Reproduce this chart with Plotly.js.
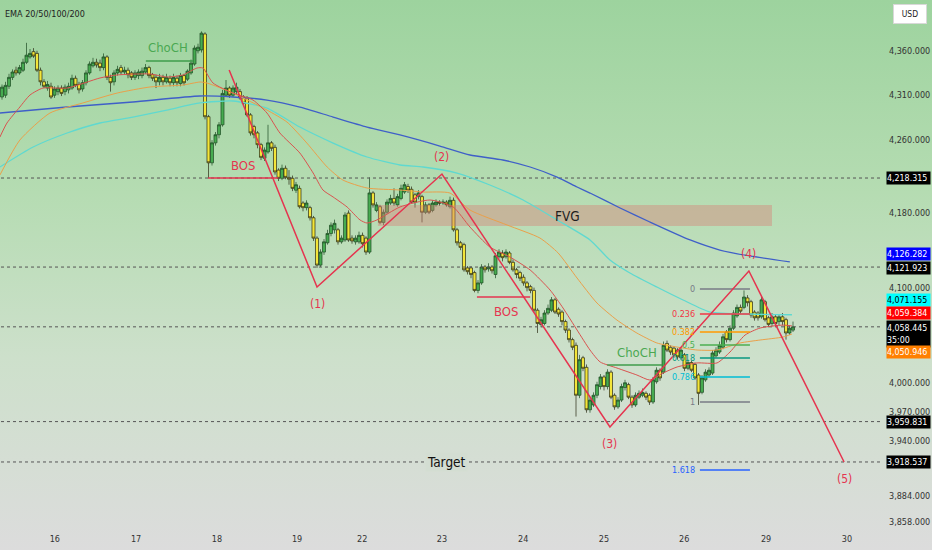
<!DOCTYPE html>
<html><head><meta charset="utf-8">
<script src="https://cdn.plot.ly/plotly-3.0.1.min.js"></script>
<style>
html,body{margin:0;padding:0;}
#chart{width:932px;height:550px;background:linear-gradient(to bottom,#9dd39e 0%,#b5dcb2 35%,#cde0cb 65%,#dcdcdc 100%);}
</style></head><body><div id="chart"></div><script>
// ---------- data ----------
const candleOpen = [4308,4310,4320,4330,4338,4335,4338,4347,4353,4359,
4357,4338,4325,4318,4320,4310,4314,4318,4314,4316,
4318,4329,4322,4317,4324,4335,4343,4347,4346,4341,
4353,4330,4325,4335,4341,4336,4338,4335,4330,4332,
4332,4336,4341,4333,4330,4325,4330,4325,4329,4324,
4329,4323,4332,4328,4335,4345,4360,4361,4379,4286,
4235,4257,4266,4277,4310,4318,4310,4314,4314,4308,
4307,4288,4275,4268,4255,4240,4247,4257,4252,4227,
4218,4229,4219,4218,4205,4207,4191,4186,4186,4175,
4153,4124,4138,4148,4158,4162,4162,4149,4151,4180,
4153,4149,4149,4156,4153,4138,4202,4183,4187,4170,
4181,4191,4196,4189,4196,4203,4209,4206,4200,4198,
4198,4181,4189,4183,4189,4192,4191,4192,4187,4194,
4162,4148,4146,4121,4121,4116,4097,4105,4122,4120,
4122,4114,4133,4137,4133,4137,4127,4119,4116,4111,
4105,4101,4097,4076,4061,4062,4073,4076,4087,4077,
4074,4064,4055,4045,4039,3987,4026,4016,3972,3977,
3987,3996,4006,3996,4011,3987,3975,3982,3995,3998,
3985,3977,3985,3987,3989,3987,3980,4001,4013,4011,
4041,4037,4036,4034,4026,4029,4015,4021,4019,4008,
3990,4003,4008,4010,4028,4032,4037,4053,4045,4057,
4070,4079,4079,4089,4085,4074,4073,4069,4085,4068,
4062,4069,4064,4069,4066,4052,4055];
const candleHigh = [4322,4325,4334,4339,4342,4344,4351,4369,4362,4363,
4360,4341,4328,4326,4324,4320,4321,4321,4322,4324,
4333,4332,4325,4327,4338,4348,4352,4351,4350,4357,
4355,4333,4338,4343,4344,4342,4341,4337,4338,4339,
4341,4345,4343,4335,4333,4334,4333,4334,4332,4334,
4332,4335,4334,4339,4350,4366,4368,4382,4381,4288,
4260,4269,4280,4316,4327,4320,4321,4324,4317,4310,
4309,4290,4277,4270,4257,4252,4277,4259,4255,4229,
4233,4232,4227,4221,4214,4210,4193,4194,4188,4177,
4155,4141,4152,4162,4170,4173,4164,4156,4181,4183,
4156,4156,4160,4159,4155,4219,4204,4192,4189,4184,
4195,4200,4207,4201,4211,4214,4212,4209,4202,4205,
4200,4192,4191,4194,4195,4194,4195,4194,4198,4197,
4164,4150,4148,4123,4123,4118,4108,4125,4124,4126,
4124,4137,4141,4140,4141,4139,4130,4121,4118,4114,
4107,4103,4100,4078,4069,4076,4082,4090,4089,4079,
4076,4066,4057,4047,4042,4029,4028,4019,3985,3990,
4001,4009,4008,4014,4013,3989,3985,3999,4003,4000,
3987,3990,3992,3994,3991,3989,4006,4016,4015,4043,
4044,4039,4038,4036,4037,4031,4024,4023,4021,4010,
4008,4014,4016,4034,4037,4043,4051,4055,4060,4076,
4082,4082,4097,4092,4087,4076,4075,4090,4087,4070,
4073,4072,4072,4073,4068,4060,4064];
const candleLow = [4305,4307,4317,4327,4332,4333,4336,4345,4351,4352,
4336,4321,4318,4315,4306,4307,4310,4309,4310,4312,
4316,4319,4312,4314,4321,4333,4341,4341,4337,4338,
4327,4314,4321,4332,4333,4333,4329,4327,4327,4328,
4329,4334,4329,4326,4318,4321,4321,4323,4320,4320,
4320,4320,4321,4326,4333,4343,4357,4358,4283,4218,
4232,4254,4262,4275,4308,4307,4308,4311,4305,4298,
4286,4265,4262,4251,4238,4237,4245,4248,4222,4215,
4216,4217,4211,4204,4202,4185,4182,4183,4172,4150,
4121,4122,4135,4146,4155,4158,4146,4147,4149,4149,
4147,4146,4147,4143,4135,4136,4186,4181,4168,4167,
4179,4189,4188,4187,4194,4201,4202,4190,4186,4195,
4170,4179,4179,4181,4187,4188,4189,4187,4185,4160,
4145,4140,4117,4114,4110,4095,4094,4103,4116,4117,
4115,4110,4131,4128,4131,4125,4117,4110,4107,4102,
4096,4094,4074,4052,4058,4060,4071,4074,4072,4069,
4060,4052,4042,4034,3965,3984,4012,3969,3969,3975,
3984,3993,3992,3993,3983,3972,3973,3980,3992,3983,
3974,3975,3983,3985,3982,3977,3978,3999,4002,4009,
4032,4029,4026,4024,4024,4012,4013,4011,4003,3977,
3988,4001,4006,4008,4026,4030,4035,4042,4043,4055,
4068,4072,4077,4080,4068,4065,4065,4067,4064,4058,
4059,4059,4060,4060,4045,4050,4053];
const candleClose = [4319,4321,4330,4336,4335,4341,4347,4355,4357,4354,
4338,4325,4320,4322,4308,4317,4318,4312,4319,4320,
4329,4321,4316,4324,4335,4345,4347,4344,4341,4353,
4330,4324,4335,4339,4336,4338,4333,4330,4335,4336,
4337,4341,4332,4329,4325,4330,4325,4330,4324,4330,
4324,4332,4324,4337,4346,4363,4364,4380,4286,4235,
4257,4266,4277,4312,4318,4310,4318,4319,4307,4301,
4288,4268,4266,4255,4241,4249,4257,4251,4225,4218,
4229,4219,4217,4207,4211,4187,4186,4191,4175,4153,
4124,4138,4149,4158,4167,4169,4149,4153,4178,4151,
4150,4153,4156,4147,4138,4202,4189,4189,4170,4181,
4192,4196,4191,4198,4207,4211,4205,4192,4192,4202,
4181,4189,4181,4191,4192,4191,4192,4189,4194,4162,
4148,4143,4119,4117,4114,4097,4105,4122,4119,4122,
4118,4134,4138,4132,4138,4127,4119,4114,4110,4105,
4100,4097,4076,4062,4066,4073,4078,4087,4074,4072,
4064,4055,4045,4037,3987,4024,4015,3972,3982,3987,
3998,4006,3996,4011,3985,3975,3982,3996,4000,3985,
3977,3987,3989,3990,3985,3980,4003,4013,4005,4039,
4034,4032,4029,4027,4034,4015,4021,4013,4005,3989,
4005,4011,4013,4031,4034,4039,4048,4045,4057,4073,
4079,4075,4090,4084,4071,4068,4068,4087,4066,4061,
4069,4062,4069,4064,4052,4057,4058.445];

// EMA lines (bar index, price)
const ema20X = [-0.6,1.4,5.1,8.0,11.7,18.6,28.0,32.9,42.3,47.1,51.7,55.7,57.4,60.3,66.0,71.7,75.7,79.4,85.1,88.9,91.7,94.6,98.6,102.3,104.3,107.1,113.7,122.3,128.9,133.7,139.4,145.1,150.9,156.6,160.3,164.3,168.0,170.9,175.7,181.4,185.1,188.9,192.9,198.6,204.3,208.0,212.3,216.6,223.1,225.7];
const ema20Y = [4263.4,4278.9,4296.8,4310.2,4318.0,4318.0,4329.3,4332.7,4333.8,4330.4,4332.7,4340.5,4340.5,4323.6,4312.4,4304.6,4290.1,4267.9,4245.8,4223.8,4205.2,4197.6,4186.7,4172.6,4169.3,4172.6,4186.7,4194.3,4186.7,4165.0,4143.4,4132.7,4118.8,4097.4,4078.3,4055.1,4034.1,4021.6,4015.3,4008.0,4002.8,4010.1,4016.4,4020.6,4020.6,4032.0,4049.8,4057.2,4060.3,4059.4];
const ema50X = [-0.6,5.1,13.7,23.1,32.9,42.3,51.7,56.6,58.6,66.0,75.7,81.4,87.1,92.9,97.4,104.3,113.7,120.3,128.0,133.7,144.3,153.7,158.9,164.3,170.0,175.7,181.4,187.1,192.9,198.6,204.3,210.9,216.6,223.1,225.7];
const ema50Y = [4221.6,4260.1,4290.1,4301.3,4312.4,4319.2,4321.4,4324.8,4323.6,4312.4,4293.4,4280.1,4256.8,4230.4,4216.1,4207.4,4205.2,4203.0,4201.9,4183.4,4167.2,4153.1,4137.0,4110.2,4083.6,4065.6,4051.9,4041.5,4037.2,4034.1,4034.1,4041.5,4044.6,4047.7,4050.9];
const ema100X = [-0.6,8.9,18.6,28.0,37.4,47.1,56.6,66.0,75.7,85.1,94.6,104.3,113.7,120.3,130.0,139.4,148.9,158.6,168.0,173.7,179.4,187.1,194.6,202.3,213.7,225.7];
const ema100Y = [4230.4,4252.4,4267.9,4279.0,4285.6,4293.4,4301.3,4303.5,4295.6,4274.5,4256.8,4241.4,4232.6,4230.4,4223.8,4210.7,4194.3,4172.6,4151.0,4129.5,4115.6,4100.6,4086.8,4074.1,4072.0,4071.2];
const ema200X = [-0.6,18.6,37.4,56.6,66.0,75.7,85.1,94.6,104.3,113.7,125.1,133.7,143.1,150.9,158.6,164.3,168.0,176.6,185.1,196.6,205.1,213.7,225.1];
const ema200Y = [4290.1,4296.8,4302.4,4309.1,4308.0,4304.6,4296.8,4285.6,4274.5,4265.7,4253.5,4243.6,4238.1,4230.4,4219.4,4208.5,4201.9,4185.6,4170.4,4151.0,4140.2,4133.8,4127.4];

// Elliott wave zigzag
const waveX = [64.9, 90.0, 125.7, 173.7, 213.4, 240.6];
const waveY = [4338.3, 4100.6, 4222.7, 3954.3, 4117.7, 3918.5];
const waveNames = ['', '(1)', '(2)', '(3)', '(4)', '(5)'];

// structure lines
const structNames = ['ChoCH', 'BOS', 'BOS', 'ChoCH'];
const structX0 = [41.1, 58.9, 135.7, 172.9];
const structX1 = [54.6, 78.9, 150.9, 188.6];
const structY = [4348.4, 4218.3, 4090.0, 4018.5];
const structTextX = [47.4, 68.9, 144.0, 181.4];
const structTextY = [4364.2, 4232.6, 4075.1, 4032.0];

// FVG zone
const fvgX = [107.4, 220.0];
const fvgY = [4166.1, 4188.8];

// key horizontal levels
const levelPrices = [4218.315, 4121.923, 4058.445, 3959.831, 3918.537];
const targetPrice = 3918.537;

// Fibonacci
const fibRatios = ['0', '0.236', '0.382', '0.5', '0.618', '0.786', '1', '1.618'];
const fibPrices = [4098.5, 4072.0, 4053.0, 4039.4, 4025.8, 4005.9, 3980.0, 3910.5];
const fibX = [199.4, 213.7];

// right-hand price tags
const tagTexts = ['4,218.315', '4,126.282', '4,121.923', '4,071.155', '4,059.384', '4,058.445<br>35:00', '4,050.946', '3,959.831', '3,918.537'];
const tagAt = [4218.3, 4135.9, 4121.0, 4086.8, 4073.0, 4051.4, 4032.0, 3959.8, 3918.5];

// axes
const yTicks = [4360, 4310, 4260, 4180, 4100, 4000, 3970, 3940, 3884, 3858];
const dayTickX = [15.1, 38.3, 61.4, 84.3, 102.9, 125.7, 148.9, 172.0, 194.9, 218.3, 241.4];
const dayLabels = ['16', '17', '18', '19', '22', '23', '24', '25', '26', '29', '30'];

// ---------- styling ----------
const FONT = 'Liberation Sans Narrow, DejaVu Sans Condensed, Roboto Condensed, Arial Narrow, Liberation Sans, sans-serif';
const RED = '#e5344f', GREEN = '#3f9d4b';
const tagBg = ['#000', '#0000ff', '#000', '#00ffff', '#ff0000', '#000', '#ff8000', '#000', '#000'];
const tagFg = ['#fff', '#fff', '#fff', '#000', '#fff', '#fff', '#fff', '#fff', '#fff'];
const fibColors = ['#787b86', '#f23645', '#ff9800', '#4caf50', '#089981', '#00bcd4', '#787b86', '#2962ff'];
const L = v => Math.log10(v);

const idx = candleClose.map((_, i) => i);
const traces = [];

// FVG zone
traces.push({x: [fvgX[0], fvgX[1], fvgX[1], fvgX[0], fvgX[0]], y: [fvgY[0], fvgY[0], fvgY[1], fvgY[1], fvgY[0]],
  mode: 'lines', fill: 'toself', fillcolor: 'rgba(214,128,118,0.42)', line: {width: 0}, hoverinfo: 'skip'});

// dotted levels
levelPrices.forEach(p => traces.push({x: [-2, 252], y: [p, p], mode: 'lines',
  line: {color: '#555555', width: 1, dash: 'dot'}, hoverinfo: 'skip'}));

// candles
traces.push({type: 'candlestick', x: idx, open: candleOpen, high: candleHigh, low: candleLow, close: candleClose,
  increasing: {line: {color: '#1d4a22', width: 0.7}, fillcolor: '#46ab50'},
  decreasing: {line: {color: '#2a2a12', width: 0.7}, fillcolor: '#f3e53a'},
  whiskerwidth: 0, hoverinfo: 'skip'});

// EMAs
[[ema200X, ema200Y, '#3f5fc8', 1.3], [ema100X, ema100Y, '#5fd9d0', 1.3], [ema50X, ema50Y, '#eaa04a', 1], [ema20X, ema20Y, '#d9534f', 1]]
  .forEach(e => traces.push({x: e[0], y: e[1], mode: 'lines', line: {color: e[2], width: e[3], shape: 'spline', smoothing: 0.6}, hoverinfo: 'skip'}));

// structure lines
structNames.forEach((n, k) => traces.push({x: [structX0[k], structX1[k]], y: [structY[k], structY[k]], mode: 'lines',
  line: {color: n === 'BOS' ? RED : GREEN, width: 1.5}, hoverinfo: 'skip'}));

// fib lines
fibPrices.forEach((p, k) => traces.push({x: fibX, y: [p, p], mode: 'lines', line: {color: fibColors[k], width: 1.5}, hoverinfo: 'skip'}));

// zigzag
traces.push({x: waveX, y: waveY, mode: 'lines', line: {color: RED, width: 1.5}, hoverinfo: 'skip'});

// ---------- annotations ----------
const ann = [];
ann.push({xref: 'paper', yref: 'paper', x: 0, y: 1, xanchor: 'left', yanchor: 'top', xshift: 3, yshift: -7,
  text: 'EMA 20/50/100/200', showarrow: false, font: {size: 9, color: '#222', family: FONT}});
ann.push({xref: 'paper', yref: 'paper', x: 1, y: 1, xanchor: 'left', yanchor: 'top', xshift: 13, yshift: -4,
  text: 'USD', showarrow: false, bgcolor: '#ffffff', bordercolor: '#d8d8d8', borderwidth: 1, width: 30, height: 16,
  font: {size: 8.5, color: '#222', family: FONT}});
waveNames.forEach((n, k) => {
  if (!n) return;
  const up = (k === 2 || k === 4);
  ann.push({x: waveX[k], y: L(waveY[k]), text: n, showarrow: false, yshift: up ? 17 : -17,
    font: {size: 12, color: RED, family: FONT}});
});
structNames.forEach((n, k) => ann.push({x: structTextX[k], y: L(structTextY[k]), text: n, showarrow: false,
  font: {size: 13, color: n === 'BOS' ? RED : '#4aa852', family: FONT}}));
ann.push({x: 161.7, y: L((fvgY[0] + fvgY[1]) / 2), text: 'FVG', showarrow: false, font: {size: 13.5, color: '#1e1e1e', family: FONT}});
ann.push({x: 126.9, y: L(targetPrice), text: 'Target', showarrow: false, bgcolor: '#d3ddd2', borderpad: 1,
  font: {size: 13.5, color: '#111', family: FONT}});
fibRatios.forEach((r, k) => ann.push({x: fibX[0], y: L(fibPrices[k]), xanchor: 'right', xshift: -3, text: r, showarrow: false,
  font: {size: 9, color: fibColors[k], family: FONT}}));
tagTexts.forEach((t, k) => ann.push({xref: 'paper', x: 1, xanchor: 'left', xshift: 6, y: L(tagAt[k]), text: t,
  showarrow: false, bgcolor: tagBg[k], width: 43, height: t.indexOf('<br>') > 0 ? 26 : 12, align: 'left', borderpad: 0,
  font: {size: 8.8, color: tagFg[k], family: FONT}}));

const layout = {
  width: 932, height: 550,
  margin: {l: 0, r: 52, t: 0, b: 22},
  paper_bgcolor: 'rgba(0,0,0,0)', plot_bgcolor: 'rgba(0,0,0,0)',
  showlegend: false, hovermode: false,
  boxgap: 0.14, boxgroupgap: 0,
  font: {family: FONT, size: 9.5, color: '#333'},
  xaxis: {range: [-0.571, 250.857], showgrid: false, zeroline: false, showline: false, ticks: '',
    tickmode: 'array', tickvals: dayTickX, ticktext: dayLabels, ticklabelstandoff: 4,
    tickfont: {size: 9, color: '#333', family: FONT}, rangeslider: {visible: false}, fixedrange: true},
  yaxis: {type: 'log', side: 'right', range: [3.58568, 3.64521], showgrid: false, zeroline: false, showline: false, ticks: '',
    tickmode: 'array', tickvals: yTicks, tickformat: ',.3f', ticklabelstandoff: 8,
    tickfont: {size: 9, color: '#333', family: FONT}, fixedrange: true},
  annotations: ann
};
Plotly.newPlot('chart', traces, layout, {staticPlot: true, displayModeBar: false});
</script></body></html>
